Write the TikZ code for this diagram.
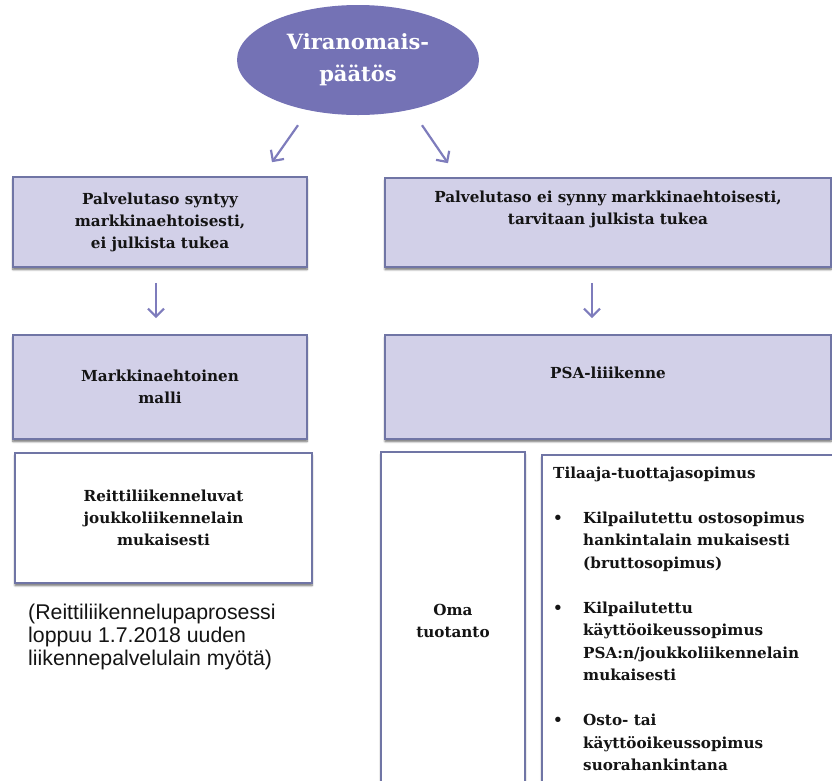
\documentclass[tikz,border=0pt]{standalone}
\usepackage{fontspec}
\setmainfont{DejaVu Serif}
\setsansfont{Liberation Sans}
\usepackage{tikz}
\usetikzlibrary{shapes.geometric,arrows.meta,positioning,shadows.blur}
\definecolor{psaviolet}{RGB}{116,114,181}
\definecolor{psaarrow}{RGB}{126,124,188}
\definecolor{psafill}{RGB}{210,208,232}
\definecolor{psaedge}{RGB}{112,117,165}
\definecolor{psadark}{RGB}{20,20,20}

\begin{document}
\begin{tikzpicture}[x=1pt, y=-1pt,
  pbox/.style={draw=psaedge, line width=1.6pt, fill=psafill, text=psadark, align=center, inner sep=0pt, font=\fontsize{15.2}{22}\selectfont\bfseries, blur shadow={shadow xshift=0pt, shadow yshift=-2.5pt, shadow blur steps=6, shadow opacity=60}},
  wbox/.style={pbox, fill=white},
  parrow/.style={draw=psaarrow, line width=2.2pt, -{Straight Barb[length=8pt, width=16pt]}}]
\useasboundingbox (0,0) rectangle (832,780);

\node[ellipse, fill=psaviolet, minimum width=242pt, minimum height=110pt, inner sep=0pt, text=white, align=center, font=\fontsize{21}{32}\selectfont\bfseries] (viran) at (358,60) {Viranomais-\\päätös};

\node[pbox, minimum width=294pt, minimum height=90pt] (syntyy) at (160,222) {Palvelutaso syntyy\\markkinaehtoisesti,\\ei julkista tukea};
\node[pbox, minimum width=446pt, minimum height=89pt] (eisynny) at (608,222.5) {Palvelutaso ei synny markkinaehtoisesti,\\tarvitaan julkista tukea\\\strut};
\node[pbox, minimum width=294pt, minimum height=104pt] (malli) at (160,387) {Markkinaehtoinen\\malli};
\node[pbox, minimum width=446pt, minimum height=104pt] (psa) at (608,387) {PSA-liiikenne\\\strut};
\node[wbox, minimum width=297pt, minimum height=130pt] (luvat) at (163.5,518) {Reittiliikenneluvat\\joukkoliikennelain\\mukaisesti};
\node[wbox, minimum width=144pt, minimum height=338pt] (oma) at (453,621) {Oma\\tuotanto};
\node[wbox, minimum width=303pt, minimum height=335pt] (tilaaja) at (693.5,622.5) {};

% sopimusmuodot
\node[anchor=base west, inner sep=0pt, text=psadark, font=\fontsize{15.2}{22.5}\selectfont\bfseries] (sopimus) at (553,478) {%
\begin{tabular}[t]{@{}p{30pt}@{}l@{}}
\multicolumn{2}{@{}l}{Tilaaja-tuottajasopimus}\\[22.5pt]
\textbullet & Kilpailutettu ostosopimus\\
 & hankintalain mukaisesti\\
 & (bruttosopimus)\\[22.5pt]
\textbullet & Kilpailutettu\\
 & käyttöoikeussopimus\\
 & PSA:n/joukkoliikennelain\\
 & mukaisesti\\[22.5pt]
\textbullet & Osto- tai\\
 & käyttöoikeussopimus\\
 & suorahankintana
\end{tabular}};

\node[anchor=base west, inner sep=0pt, text=psadark, font=\sffamily\fontsize{21.3}{23}\selectfont] (prosessi) at (28,619) {%
\begin{tabular}[t]{@{}l@{}}
(Reittiliikennelupaprosessi\\
loppuu 1.7.2018 uuden\\
liikennepalvelulain myötä)
\end{tabular}};

\draw[parrow] ([xshift=-60pt, yshift=-10pt]viran.south) -- ([xshift=112pt, yshift=14pt]syntyy.north);
\draw[parrow] ([xshift=64pt, yshift=-10pt]viran.south) -- ([xshift=-160pt, yshift=14pt]eisynny.north);
\draw[parrow] ([xshift=-4pt, yshift=-15pt]syntyy.south) -- ([xshift=-4pt, yshift=16pt]malli.north);
\draw[parrow] ([xshift=-16pt, yshift=-15pt]eisynny.south) -- ([xshift=-16pt, yshift=16pt]psa.north);
\end{tikzpicture}
\end{document}
